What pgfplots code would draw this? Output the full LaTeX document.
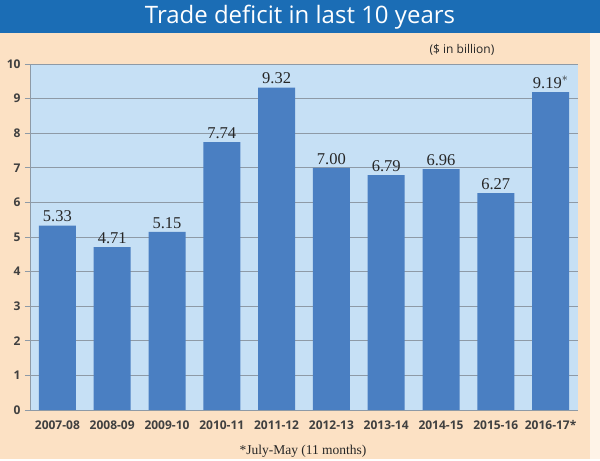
\documentclass[border=0pt]{standalone}
\usepackage{pgfplots}
\pgfplotsset{compat=1.18}
\usepackage{fontspec}
\setmainfont{Liberation Serif}
\newfontfamily\sansf{Open Sans}
\definecolor{peach}{HTML}{FCE1C4}
\definecolor{banner}{HTML}{1B6DB5}
\definecolor{plotbg}{HTML}{C6E0F5}
\definecolor{barc}{HTML}{4A7FC2}
\definecolor{gridc}{HTML}{8E9AA6}
\begin{document}
\begin{tikzpicture}[x=1pt,y=1pt]
\fill[peach] (0,0) rectangle (600,459);
\fill[white!60!peach] (590,0) rectangle (600,426);
\fill[banner] (0,426) rectangle (600,459);
\node[text=white,font=\sansf\fontsize{24}{28}\selectfont] at (300,442) {Trade deficit in last 10 years};
\node[text=black!85,font=\sansf\fontsize{12}{14}\selectfont] at (462,409) {(\$ in billion)};
\begin{axis}[
  at={(30pt,49pt)}, anchor=south west,
  scale only axis, width=548pt, height=346pt,
  xmin=-0.5, xmax=9.5, ymin=0, ymax=10,
  axis background/.style={fill=plotbg},
  axis x line*=bottom, axis y line*=left,
  axis line style={gridc, line width=0.8pt},
  ytick={0,...,10},
  ymajorgrids, grid style={gridc, line width=0.8pt},
  ytick style={gridc, line width=0.8pt},
  major tick length=5pt,
  tick align=outside,
  xtick={0,...,9},
  xticklabels={2007-08,2008-09,2009-10,2010-11,2011-12,2012-13,2013-14,2014-15,2015-16,2016-17*},
  x tick style={draw=none},
  minor xtick={-0.5,0.5,...,9.5},
  minor x tick style={gridc, line width=0.8pt},
  minor tick length=5pt,
  /pgf/number format/assume math mode=true,
  tick label style={font=\sansf\bfseries\fontsize{12}{14}\selectfont, text=black!75},
  x tick label style={yshift=-2pt},
  yticklabel style={xshift=-1pt},
  ybar, bar width=37pt,
  point meta=explicit symbolic,
  nodes near coords,
  every node near coord/.append style={font=\fontsize{16.5}{18}\selectfont, text=black!85, yshift=0pt},
  clip=false,
]
\addplot[fill=barc, draw=none] table[x=x, y=y, meta=lab] {
x y lab
0 5.33 5.33
1 4.71 4.71
2 5.15 5.15
3 7.74 7.74
4 9.32 9.32
5 7.00 7.00
6 6.79 6.79
7 6.96 6.96
8 6.27 6.27
9 9.19 9.19$^{*}$
};
\end{axis}
\node[text=black!85,font=\fontsize{13.5}{15}\selectfont] at (303,8) {*July-May (11 months)};
\end{tikzpicture}
\end{document}
